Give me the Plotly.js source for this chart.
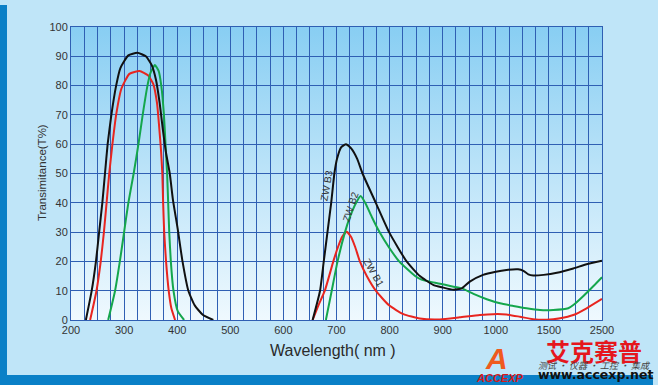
<!DOCTYPE html>
<html>
<head>
<meta charset="utf-8">
<script src="https://cdn.plot.ly/plotly-3.0.1.min.js"></script>
<style>
  html,body{margin:0;padding:0;width:658px;height:385px;overflow:hidden;background:#bfe5f8;font-family:"Liberation Sans",Arial,sans-serif;}
  #leftbar{position:absolute;left:0;top:5px;width:7px;height:380px;background:#0a80c7;}
  #bottombar{position:absolute;left:0;top:375px;width:653px;height:10px;background:#0a80c7;}
  #plotbg{position:absolute;left:71px;top:27px;width:531px;height:293px;
    background:linear-gradient(to bottom,#88cef3 0%,#a8dbf6 30%,#c9e9fa 62%,#eff9fe 100%);}
  #chart{position:absolute;left:0;top:0;width:658px;height:385px;}
</style>
</head>
<body>
<div id="leftbar"></div>
<div id="bottombar"></div>
<div id="plotbg"></div>
<div id="chart"></div>
<script>
// Tick labels of the (piecewise) wavelength axis
const tickLabels = [200,300,400,500,600,700,800,900,1000,1500,2500];

// ZWB3 (black)
const zwb3_wl = [228,239,247,253,259,264,269,276,285,293,308,325,341,352,360,367,373,379,386,392,401,410,421,433,448,468,
  null,
  655,669,676,683,690,696,701,709,718,728,739,749,774,799,832,857,882,900,920,936,951,976,1000,1100,1210,1260,1306,1353,1450,1650,1960,2210,2500];
const zwb3_t  = [0,10,20,30,40,50,60,70,80,86,90.3,91.2,90,87,82,74,65,57,50,41,31,20,10,5,1.8,0,
  null,
  0,10,20,30,40,50,55,59,60,58.5,55,50,40,30,20,15,12,11.1,10.3,10.8,13.1,15.4,16.5,17.1,17.3,16.8,15.6,15.2,15.4,16.1,17.6,19,20.2];

// ZWB2 (green)
const zwb2_wl = [270,283,292,300,308,318,327,335,344,350,358,365,370,375,378,381,383,385,388,393,401,413,
  null,
  680,691,702,716,725,737,745.5,754,767,781,798,818,848,860,876,895,914,936,958,983,1040,1165,1290,1416,1580,1865,1960,2150,2340,2500];
const zwb2_t  = [0,10,20,30,40,50,60,70,80,84.5,87,85,80,70,60,50,40,30,20,10,3,0,
  null,
  0,10,20,30,35,40,42.3,40,35,30,25,20,15,13.8,13.1,12.4,11.6,10.8,8.9,7.1,5.7,4.8,4.0,3.4,3.4,4.0,5.1,8.2,11.6,14.6];

// ZWB1 (red)
const zwb1_wl = [236,248,256,262,267,272,278,285,295,310,329,345,355,362,366,369.5,372,373.5,375.5,379,384,389,396,
  null,
  655,666,678,694,703,711,719,727,735,744,757,774,799,826,857,895,932,970,995,1100,1228,1350,1480,1710,1960,2210,2500];
const zwb1_t  = [0,10,20,30,40,50,60,70,79,84,85,83.5,80.5,74,66,58,50,40,30,20,10,4,0,
  null,
  0,5,10,20,25,28.5,30.1,28.5,25,20,15,10,5,2,0.5,0.2,0.9,1.7,2.0,1.9,1.1,0.3,0.1,0.6,1.7,4.0,7.2];

// piecewise mapping of wavelength onto the evenly spaced tick positions
function pos(w){
  if (w === null) return null;
  for (let i = 0; i < tickLabels.length - 1; i++){
    const a = tickLabels[i], b = tickLabels[i+1];
    if (w <= b || i === tickLabels.length - 2) return i + (w - a) / (b - a);
  }
}

const gridColor = '#2f5fb3';
const mk = (wl, t, color, name) => ({
  x: wl.map(pos), y: t, type: 'scatter', mode: 'lines', name: name,
  line: {color: color, width: 2, shape: 'spline', smoothing: 0.5},
  connectgaps: false, hoverinfo: 'skip'
});

const data = [
  mk(zwb1_wl, zwb1_t, '#e8251f', 'ZWB1'),
  mk(zwb2_wl, zwb2_t, '#14a64c', 'ZWB2'),
  mk(zwb3_wl, zwb3_t, '#111111', 'ZWB3')
];

const L = 71, R = 602, T = 27, B = 320;
const px = x => (x - L) / (R - L);
const py = y => (B - y) / (B - T);
const ann = (text, x, y, font, extra) => Object.assign({
  text: text, xref: 'paper', yref: 'paper', x: px(x), y: py(y),
  xanchor: 'center', yanchor: 'middle', showarrow: false, borderpad: 0, font: font
}, extra || {});

const layout = {
  width: 658, height: 385,
  margin: {l: L, r: 658 - R, t: T, b: 385 - B, pad: 0},
  paper_bgcolor: 'rgba(0,0,0,0)', plot_bgcolor: 'rgba(0,0,0,0)',
  showlegend: false,
  font: {family: '"Liberation Sans", Arial, sans-serif', color: '#333', size: 11},
  xaxis: {
    range: [0, tickLabels.length - 1], tickmode: 'array',
    tickvals: tickLabels.map((v, i) => i), ticktext: tickLabels.map(String),
    showgrid: true, gridcolor: gridColor, gridwidth: 1,
    minor: {tick0: 0, dtick: 0.25, showgrid: true, gridcolor: gridColor, gridwidth: 1, ticks: ''},
    showline: true, linecolor: gridColor, linewidth: 1, mirror: true,
    ticks: '', zeroline: false, fixedrange: true,
    tickfont: {size: 11, color: '#333'}
  },
  yaxis: {
    range: [0, 100], dtick: 10, tick0: 0,
    showgrid: true, gridcolor: gridColor, gridwidth: 1,
    showline: true, linecolor: gridColor, linewidth: 1, mirror: true,
    ticks: '', zeroline: false, fixedrange: true,
    tickfont: {size: 11, color: '#333'}
  },
  annotations: [
    ann('Wavelength( nm )', 333, 350, {size: 16, color: '#2a2a2a'}),
    ann('Transimitance(T%)', 42, 173, {size: 11.5, color: '#333'}, {textangle: -90}),
    ann('ZW B3', 326, 186, {size: 10, color: '#333'}, {textangle: -80}),
    ann('ZW B2', 350, 207, {size: 10, color: '#333'}, {textangle: -72}),
    ann('ZW B1', 374, 272, {size: 10, color: '#333'}, {textangle: 60}),
    ann('<b>艾克赛普</b>', 594, 350, {size: 24, color: '#e5161d', family: '"Noto Sans CJK SC", sans-serif'}),
    ann('<i>测试 · 仪器 · 工控 · 集成</i>', 594, 365, {size: 9, color: '#444', family: '"Noto Sans CJK SC", sans-serif'}),
    ann('<b>www.accexp.net</b>', 595, 374, {size: 12.5, color: '#111', family: '"DejaVu Sans", sans-serif'}),
    ann('<b><i>A</i></b>', 496, 358, {size: 30, color: '#ef5a1e', family: '"Liberation Sans", sans-serif'}),
    ann('<b><i>ACCEXP</i></b>', 500, 378, {size: 11, color: '#d81a1a', family: '"Liberation Sans", sans-serif'})
  ]
};

Plotly.newPlot('chart', data, layout, {staticPlot: true, displayModeBar: false});
</script>
</body>
</html>
